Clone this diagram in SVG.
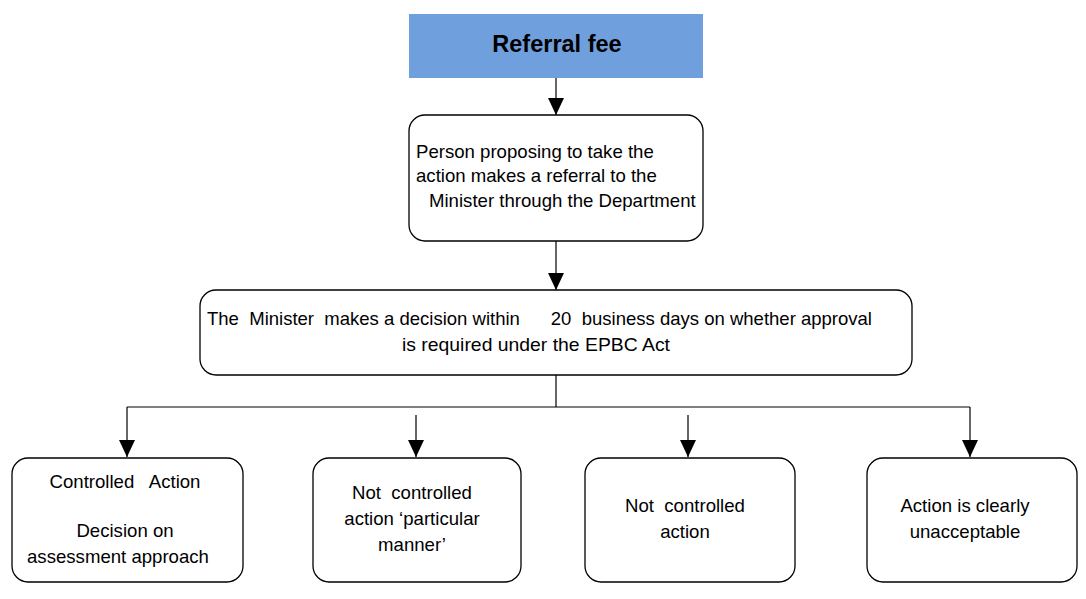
<svg xmlns="http://www.w3.org/2000/svg" width="1086" height="599" viewBox="0 0 1086 599">
<style>
.box{fill:#fff;stroke:#000;stroke-width:1.3}
.t{font-family:"Liberation Sans",Arial,sans-serif;font-size:18.6px;fill:#000}
.c{text-anchor:middle}
.ln{stroke:#000;stroke-width:1.2;fill:none}
</style>
<defs>
<marker id="arr" markerWidth="17" markerHeight="16" refX="17" refY="8" orient="auto" markerUnits="userSpaceOnUse" viewBox="0 0 17 16">
<path d="M0,0 L17,8 L0,16 Z" fill="#000"/>
</marker>
</defs>
<g id="connectors">
<line class="ln" x1="556" y1="78" x2="556" y2="115" marker-end="url(#arr)"/>
<line class="ln" x1="556" y1="241" x2="556" y2="290" marker-end="url(#arr)"/>
<line class="ln" x1="556" y1="375" x2="556" y2="407"/>
<line class="ln" x1="127" y1="407" x2="970" y2="407"/>
<line class="ln" x1="127" y1="407" x2="127" y2="457" marker-end="url(#arr)"/>
<line class="ln" x1="416" y1="415" x2="416" y2="457" marker-end="url(#arr)"/>
<line class="ln" x1="688" y1="415" x2="688" y2="457" marker-end="url(#arr)"/>
<line class="ln" x1="970" y1="407" x2="970" y2="457" marker-end="url(#arr)"/>
</g>
<g id="referral-fee">
<rect x="409" y="14" width="294" height="64" fill="#6f9fdc"/>
<text class="t c" x="557" y="52" style="font-size:23.5px;font-weight:bold">Referral fee</text>
</g>
<g id="person-proposing">
<rect class="box" x="409" y="115" width="294" height="126" rx="16"/>
<text class="t" x="416" y="158">Person proposing to take the</text>
<text class="t" x="416" y="182">action makes a referral to the</text>
<text class="t" x="429" y="207">Minister through the Department</text>
</g>
<g id="minister-decision">
<rect class="box" x="200" y="290" width="712" height="85" rx="16"/>
<text class="t" x="207" y="325" xml:space="preserve" textLength="665" lengthAdjust="spacingAndGlyphs">The  Minister  makes a decision within      20  business days on whether approval</text>
<text class="t" x="402" y="351" textLength="268" lengthAdjust="spacingAndGlyphs">is required under the EPBC Act</text>
</g>
<g id="controlled-action">
<rect class="box" x="12" y="458" width="231" height="124" rx="16"/>
<text class="t c" x="125" y="488" xml:space="preserve">Controlled   Action</text>
<text class="t c" x="125" y="537">Decision on</text>
<text class="t c" x="118" y="563">assessment approach</text>
</g>
<g id="particular-manner">
<rect class="box" x="313" y="458" width="208" height="124" rx="16"/>
<text class="t c" x="412" y="499" xml:space="preserve">Not  controlled</text>
<text class="t c" x="412" y="525">action ‘particular</text>
<text class="t c" x="412" y="551">manner’</text>
</g>
<g id="not-controlled">
<rect class="box" x="585" y="458" width="210" height="124" rx="16"/>
<text class="t c" x="685" y="512" xml:space="preserve">Not  controlled</text>
<text class="t c" x="685" y="538">action</text>
</g>
<g id="unacceptable">
<rect class="box" x="867" y="458" width="210" height="124" rx="16"/>
<text class="t c" x="965" y="512">Action is clearly</text>
<text class="t c" x="965" y="538">unacceptable</text>
</g>
</svg>
